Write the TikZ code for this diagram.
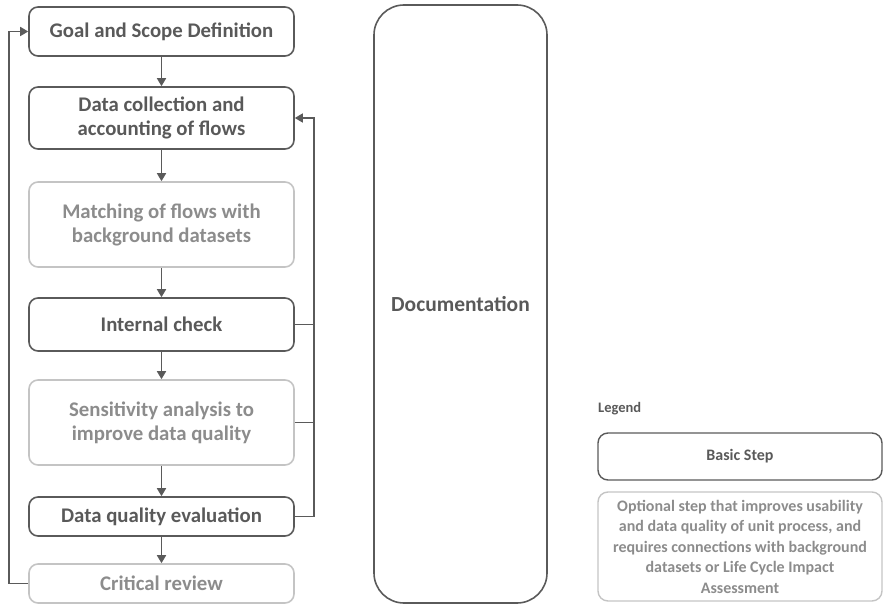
\documentclass[tikz,border=0pt]{standalone}
\usepackage{fontspec}
\setmainfont{Carlito}
\usetikzlibrary{arrows.meta}
\definecolor{darkline}{HTML}{5A5A5A}
\definecolor{darktext}{HTML}{595959}
\definecolor{lightline}{HTML}{C4C4C4}
\definecolor{lighttext}{HTML}{8C8C8C}
\begin{document}
\begin{tikzpicture}[x=1pt,y=-1pt,
  basic/.style={draw=darkline, line width=1.6pt, rounded corners=9pt,
    text=darktext, font=\bfseries\fontsize{20.8}{24}\selectfont,
    align=center, inner sep=0pt, minimum width=265pt},
  optional/.style={basic, draw=lightline, text=lighttext},
  legendbox/.style={draw=darkline, line width=1.4pt, rounded corners=10pt,
    text=darktext, font=\bfseries\fontsize{16}{20.5}\selectfont,
    align=center, inner sep=0pt, minimum width=284pt},
  flow/.style={draw=darkline, line width=1.6pt, -{Triangle[length=8pt,width=9pt]}},
  link/.style={draw=darkline, line width=1.6pt}]
\useasboundingbox (0,0) rectangle (884,607);

% main sequence of steps
\node[basic, minimum height=49pt] (goal) at (161.5,31.5) {Goal and Scope Definition};
\node[basic, minimum height=62pt] (data) at (161.5,118) {Data collection and\\accounting of flows};
\node[optional, minimum height=85pt] (match) at (161.5,224.5) {Matching of flows with\\background datasets};
\node[basic, minimum height=53pt] (check) at (161.5,324.5) {Internal check};
\node[optional, minimum height=85pt] (sens) at (161.5,422.5) {Sensitivity analysis to\\improve data quality};
\node[basic, minimum height=39pt] (dqe) at (161.5,516.5) {Data quality evaluation};
\node[optional, minimum height=39pt] (review) at (161.5,583.5) {Critical review};

% downward flow
\draw[flow] (goal) -- (data);
\draw[flow] (data) -- (match);
\draw[flow] (match) -- (check);
\draw[flow] (check) -- (sens);
\draw[flow] (sens) -- (dqe);
\draw[flow] (dqe) -- (review);

% feedback loops
\draw[flow] (review.west) -- ++(-19,0) |- (goal.west);
\draw[flow] (dqe.east) -- ++(19,0) |- (data.east);
\draw[link] (check.east) -- ++(19,0);
\draw[link] (sens.east) -- ++(19,0);

% documentation column
\node[basic, rounded corners=30pt, minimum width=173pt, minimum height=598pt] (doc)
  at (460.5,304) {\fontsize{21.5}{24}\selectfont Documentation};

% legend
\node[anchor=west, text=darktext, font=\bfseries\fontsize{14.5}{16}\selectfont, inner sep=0pt]
  (legend) at (598,409) {Legend};
\node[legendbox, minimum height=47pt] (lbasic) at (740,456.5) {Basic Step};
\node[legendbox, draw=lightline, text=lighttext, minimum height=109pt] (lopt) at (740,546.5)
  {Optional step that improves usability\\and data quality of unit process, and\\requires connections with background\\datasets or Life Cycle Impact\\Assessment};
\end{tikzpicture}
\end{document}
